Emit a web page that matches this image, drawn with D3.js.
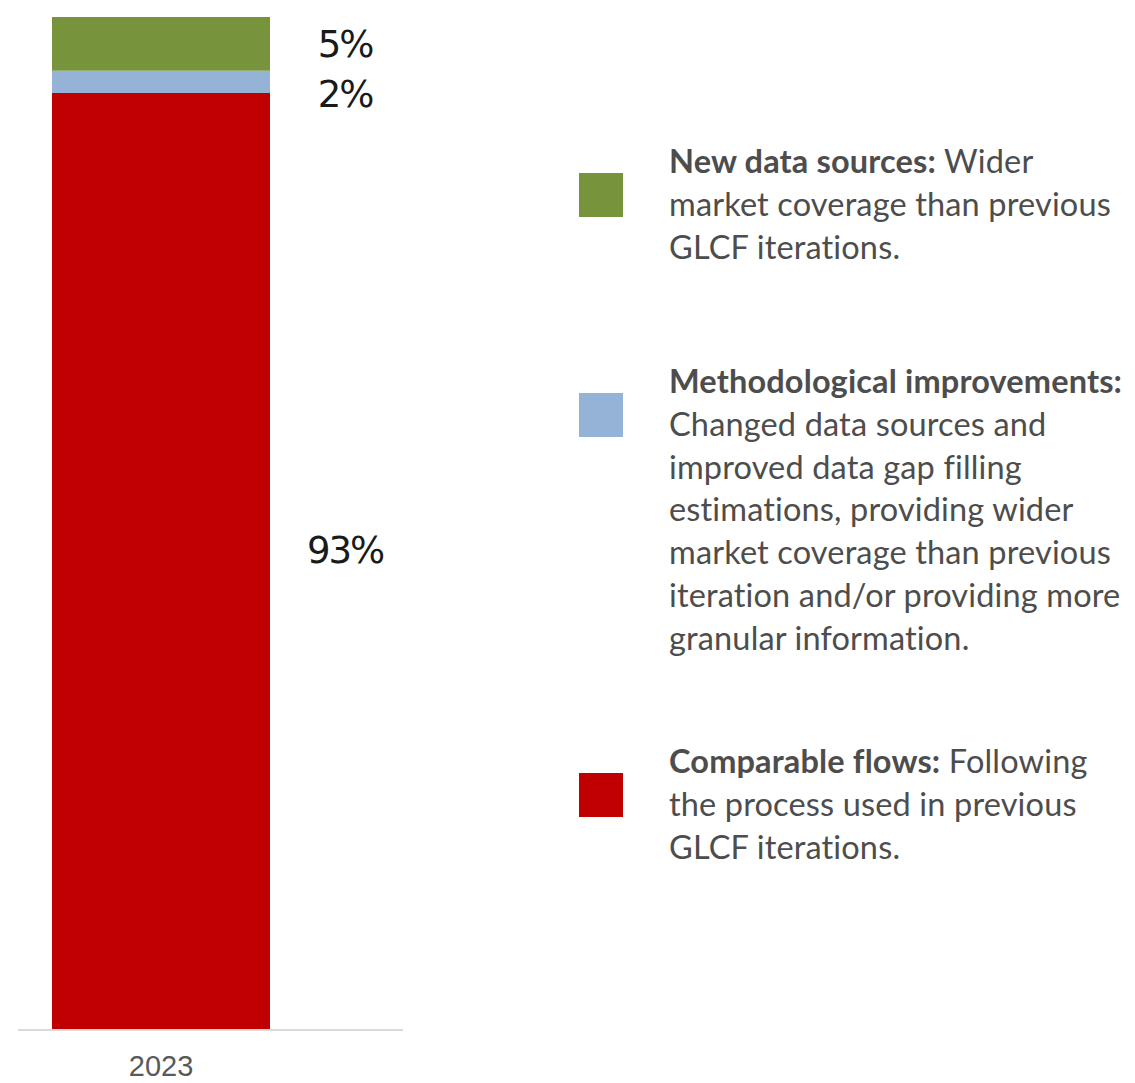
<!DOCTYPE html>
<html><head><meta charset="utf-8">
<script src="https://cdn.jsdelivr.net/npm/d3@7"></script>
<style>body{margin:0;background:#fff}</style>
</head><body>
<svg id="c" width="1135" height="1083"></svg>
<script>
const years = ["2023"];
const seriesNames = ["Comparable flows", "Methodological improvements", "New data sources"];
const seriesValues = [92.5, 2.2, 5.3];
const seriesLabels = ["93%", "2%", "5%"];
const seriesColors = ["#c00000", "#95b3d7", "#77933c"];
const legendBold = ["New data sources:", "Methodological improvements:", "Comparable flows:"];
const legendLines = [
  [" Wider", "market coverage than previous", "GLCF iterations."],
  ["", "Changed data sources and", "improved data gap filling", "estimations, providing wider", "market coverage than previous", "iteration and/or providing more", "granular information."],
  [" Following", "the process used in previous", "GLCF iterations."]
];
const legendColors = ["#77933c", "#95b3d7", "#c00000"];

const svg = d3.select("#c");
const x = d3.scaleBand().domain(years).range([52, 270]).padding(0);
const y = d3.scaleLinear().domain([0, 100]).range([1030, 17]);

let cum = 0;
const stack = seriesValues.map((v, i) => { const s = {y0: cum, y1: cum + v, i}; cum += v; return s; });

svg.selectAll("rect.bar").data(stack).enter().append("rect")
  .attr("x", x("2023")).attr("width", x.bandwidth())
  .attr("y", d => y(d.y1)).attr("height", d => y(d.y0) - y(d.y1))
  .attr("fill", d => seriesColors[d.i]);

// axis
const ax = svg.append("g").attr("transform", "translate(0,1030)").call(d3.axisBottom(x).tickSize(0).tickPadding(25));
ax.select(".domain").attr("stroke", "#d9d9d9").attr("stroke-width", 2).attr("d", "M18,0H403");
ax.selectAll("text").attr("font-family", "Liberation Sans, Arial, sans-serif").attr("font-size", 29).attr("fill", "#595959");

// data labels with collision push
const mids = stack.map(d => ({i: d.i, ym: y((d.y0 + d.y1) / 2) - (d.y1 - d.y0 > 50 ? 12 : 0)}));
const byTop = mids.slice().sort((a, b) => a.ym - b.ym);
for (let k = 1; k < byTop.length; k++) {
  if (byTop[k].ym - byTop[k - 1].ym < 50) byTop[k].ym = byTop[k - 1].ym + 50;
}
svg.selectAll("text.lbl").data(mids).enter().append("text")
  .attr("x", 345).attr("y", d => d.ym).attr("dy", "0.36em")
  .attr("text-anchor", "middle")
  .attr("font-family", "DejaVu Sans, sans-serif").attr("font-size", 37)
  .attr("letter-spacing", -2)
  .attr("fill", "#1a1a1a").text(d => seriesLabels[d.i]);

// legend
const legTop = [173, 393, 773];
const lh = 42.8;
legendBold.forEach((b, i) => {
  svg.append("rect").attr("x", 579).attr("y", legTop[i]).attr("width", 44).attr("height", 44).attr("fill", legendColors[i]);
  const lines = legendLines[i];
  lines.forEach((ln, j) => {
    const t = svg.append("text").attr("x", 669).attr("y", legTop[i] + j * lh)
      .attr("font-family", "Lato, sans-serif").attr("font-size", 32.5).attr("fill", "#4d4d4d")
      .attr("letter-spacing", 0.15)
      .style("font-variant-ligatures", "none");
    if (j === 0) {
      t.append("tspan").attr("font-weight", "bold").text(b);
      t.append("tspan").text(ln);
    } else t.text(ln);
  });
});
</script>
</body></html>
